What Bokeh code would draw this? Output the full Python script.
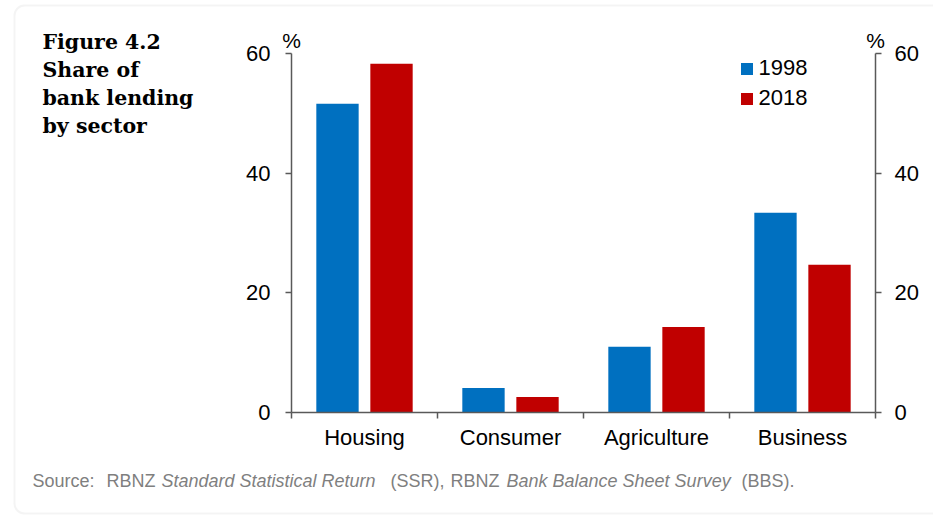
from bokeh.plotting import figure
from bokeh.models import (Range1d, LinearAxis, FixedTicker, Label, Legend, LegendItem,
                          BoxAnnotation, ColumnDataSource, CustomJSTickFormatter)
from bokeh.transform import dodge
from bokeh.embed import file_html
from bokeh.resources import INLINE

# ---------------- data ----------------
categories = ["Housing", "Consumer", "Agriculture", "Business"]
years = ["1998", "2018"]
share_1998 = [51.6, 4.1, 11.0, 33.4]
share_2018 = [58.3, 2.6, 14.3, 24.7]
y_ticks = [0, 20, 40, 60]
unit_label = "%"
title_lines = ["Figure 4.2", "Share of", "bank lending", "by sector"]
source_texts = ["Source:", "RBNZ", "Standard Statistical Return", "(SSR),", "RBNZ",
                "Bank Balance Sheet Survey", "(BBS)."]

# ---------------- layout (page pixels) ----------------
W, H = 933, 517
PL, PR, PT, PB = 291.0, 875.0, 53.0, 412.0   # extent of the category / value axes
NCAT = len(categories)
YMAX = y_ticks[-1]
XPX = (PR - PL) / NCAT          # px per category
YPX = (PB - PT) / YMAX          # px per percent

def dx(px):
    return (px - PL) / XPX
def dy(py):
    return (PB - py) / YPX

FONT = "Liberation Sans"
BLUE = "#0070C0"
RED = "#C00000"
AXIS = "#595959"

source_styles = ["normal", "normal", "italic", "normal", "normal", "italic", "normal"]
source_x = [32, 106, 161, 390, 450, 506, 741]

src = ColumnDataSource(dict(
    x=[i + 0.5 for i in range(NCAT)],
    y1998=share_1998,
    y2018=share_2018,
))

# the frame fills the whole canvas; axes sit at fixed data locations
p = figure(width=W, height=H, x_range=Range1d(dx(0), dx(W)), y_range=Range1d(dy(H), dy(0)),
           output_backend="svg", toolbar_location=None, x_axis_type=None, y_axis_type=None,
           min_border=0)
p.outline_line_color = None
p.grid.visible = False
p.background_fill_color = "white"
p.border_fill_color = "white"

# card border
card = BoxAnnotation(left=14, right=W + 40, top=5, bottom=513,
                     left_units="canvas", right_units="canvas", top_units="canvas", bottom_units="canvas",
                     fill_alpha=0, line_color="#d9d9d9", line_width=2,
                     border_radius=10, level="underlay")
p.add_layout(card)

r1 = p.vbar(x=dodge("x", -0.185, range=p.x_range), top="y1998", width=0.29, source=src,
            fill_color=BLUE, line_color=None)
r2 = p.vbar(x=dodge("x", 0.185, range=p.x_range), top="y2018", width=0.29, source=src,
            fill_color=RED, line_color=None)

def style_axis(ax):
    ax.axis_line_color = AXIS
    ax.axis_line_width = 1.5
    ax.major_tick_line_color = AXIS
    ax.major_tick_line_width = 1.5
    ax.minor_tick_line_color = AXIS
    ax.minor_tick_line_width = 1.5
    ax.major_label_text_font = FONT
    ax.major_label_text_font_size = "22px"
    ax.major_label_text_color = "black"

# category axis: labels at centres, ticks at boundaries
xa = LinearAxis(fixed_location=0, bounds=(0, NCAT),
                ticker=FixedTicker(ticks=[i + 0.5 for i in range(NCAT)],
                                   minor_ticks=list(range(NCAT + 1))),
                formatter=CustomJSTickFormatter(args=dict(labels=categories),
                                                code="return labels[Math.floor(tick)] || ''"))
style_axis(xa)
xa.major_tick_out = 0
xa.major_tick_in = 0
xa.minor_tick_out = 6
xa.minor_tick_in = 0
xa.major_label_standoff = 6
p.add_layout(xa, "below")

for loc, side, standoff in ((0, "left", 15), (NCAT, "right", 13)):
    ax = LinearAxis(fixed_location=loc, bounds=(0, YMAX), ticker=FixedTicker(ticks=y_ticks))
    style_axis(ax)
    ax.major_tick_out = 6
    ax.major_tick_in = 0
    ax.minor_tick_out = 0
    ax.minor_tick_in = 0
    ax.major_label_standoff = standoff
    p.add_layout(ax, side)

# % unit labels above both value axes
for xv in (0, NCAT):
    p.add_layout(Label(x=xv, y=dy(40), text=unit_label, text_align="center", text_baseline="middle",
                       text_font=FONT, text_font_size="21px", text_color="black"))

# legend
legend = Legend(items=[LegendItem(label=years[0], renderers=[r1]),
                       LegendItem(label=years[1], renderers=[r2])],
                location=(738.5, H - 111), orientation="vertical",
                glyph_width=15, glyph_height=15, label_height=24, spacing=4,
                label_standoff=5, padding=0, margin=0,
                border_line_color=None, background_fill_alpha=0,
                label_text_font=FONT, label_text_font_size="22px", label_text_color="black")
p.add_layout(legend)

# title block
for i, t in enumerate(title_lines):
    p.add_layout(Label(x=dx(42), y=dy(41 + 28.3 * i), text=t, text_align="left", text_baseline="alphabetic",
                       text_font="DejaVu Serif", text_font_style="bold", text_font_size="20.5px",
                       text_color="black"))

# source line
for t, st, xp in zip(source_texts, source_styles, source_x):
    p.add_layout(Label(x=dx(xp), y=dy(480), text=t, text_align="left", text_baseline="alphabetic",
                       text_font=FONT, text_font_style=st, text_font_size="18px",
                       text_color="#7f7f7f"))

open("out.html", "w").write(file_html(p, INLINE))
